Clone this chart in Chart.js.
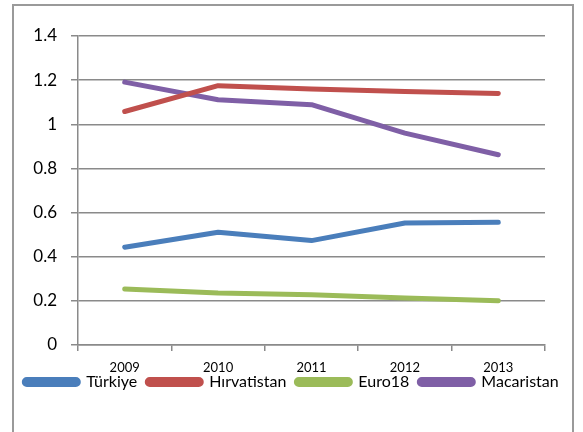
<!DOCTYPE html>
<html>
<head>
<meta charset="utf-8">
<script src="https://cdn.jsdelivr.net/npm/chart.js@4"></script>
<style>
  html, body { margin: 0; padding: 0; background: #fff; }
  #wrap { position: relative; width: 583px; height: 432px; }
</style>
</head>
<body>
<div id="wrap"><canvas id="lineChart" width="583" height="432"></canvas></div>
<script>
const years = ['2009', '2010', '2011', '2012', '2013'];
const turkiye = [0.443, 0.511, 0.473, 0.553, 0.556];
const hirvatistan = [1.058, 1.175, 1.160, 1.149, 1.140];
const euro18 = [0.254, 0.236, 0.228, 0.213, 0.200];
const macaristan = [1.191, 1.111, 1.089, 0.960, 0.862];
const yTicks = [0, 0.2, 0.4, 0.6, 0.8, 1, 1.2, 1.4];

const gridColor = '#8a8a8a';

function serie(label, data, color) {
  return {
    label: label,
    data: data,
    borderColor: color,
    backgroundColor: color,
    borderWidth: 5,
    borderCapStyle: 'round',
    borderJoinStyle: 'round',
    pointRadius: 0,
    tension: 0
  };
}

// çerçeve (grafik alanının etrafındaki gri kutu)
const frame = {
  id: 'frame',
  beforeDraw(chart) {
    const c = chart.ctx;
    c.save();
    c.strokeStyle = '#9a9a9a';
    c.lineWidth = 2;
    c.strokeRect(13, 5, 560, 500);
    c.restore();
  },
  // lejantı yıl etiketlerinin hemen altına çek
  afterLayout(chart) {
    const lg = chart.legend;
    lg.top -= 11;
    lg.bottom -= 11;
  }
};

new Chart(document.getElementById('lineChart').getContext('2d'), {
  type: 'line',
  data: {
    labels: years,
    datasets: [
      serie('Türkiye', turkiye, '#4a7ebb'),
      serie('Hırvatistan', hirvatistan, '#c0504d'),
      serie('Euro18', euro18, '#9bbb59'),
      serie('Macaristan', macaristan, '#7f5fa6')
    ]
  },
  options: {
    responsive: false,
    animation: false,
    layout: { padding: { top: 36, right: 0, bottom: 21, left: 0 } },
    plugins: {
      tooltip: { enabled: false },
      legend: {
        position: 'bottom',
        labels: {
          boxWidth: 54,
          boxHeight: 5,
          useBorderRadius: true,
          borderRadius: 2.5,
          padding: 10,
          color: '#000',
          font: { family: 'Lato', size: 16 }
        }
      }
    },
    scales: {
      x: {
        offset: true,
        grid: {
          display: true,
          offset: true,
          drawOnChartArea: false,
          drawTicks: true,
          tickLength: 6,
          color: gridColor,
          lineWidth: 1.5
        },
        border: { display: true, color: gridColor, width: 1.5 },
        ticks: {
          color: '#000',
          padding: 9,
          maxRotation: 0,
          font: { family: 'Lato', size: 13 }
        },
        afterFit(scale) { scale.height = 30; }
      },
      y: {
        min: 0,
        max: 1.4,
        afterBuildTicks(scale) { scale.ticks = yTicks.map(v => ({ value: v })); },
        grid: {
          color: gridColor,
          lineWidth: 1.5,
          tickLength: 7
        },
        border: { display: true, color: gridColor, width: 1.5 },
        ticks: {
          color: '#000',
          padding: 14,
          font: { family: 'Lato', size: 17 },
          callback: v => String(Math.round(v * 10) / 10)
        },
        afterFit(scale) { scale.width = 78; }
      },
      // sağ boşluk için boş eksen
      bosluk: {
        position: 'right',
        grid: { display: false },
        border: { display: false },
        ticks: { display: false },
        afterFit(scale) { scale.width = 38; }
      }
    }
  },
  plugins: [frame]
});
</script>
</body>
</html>
